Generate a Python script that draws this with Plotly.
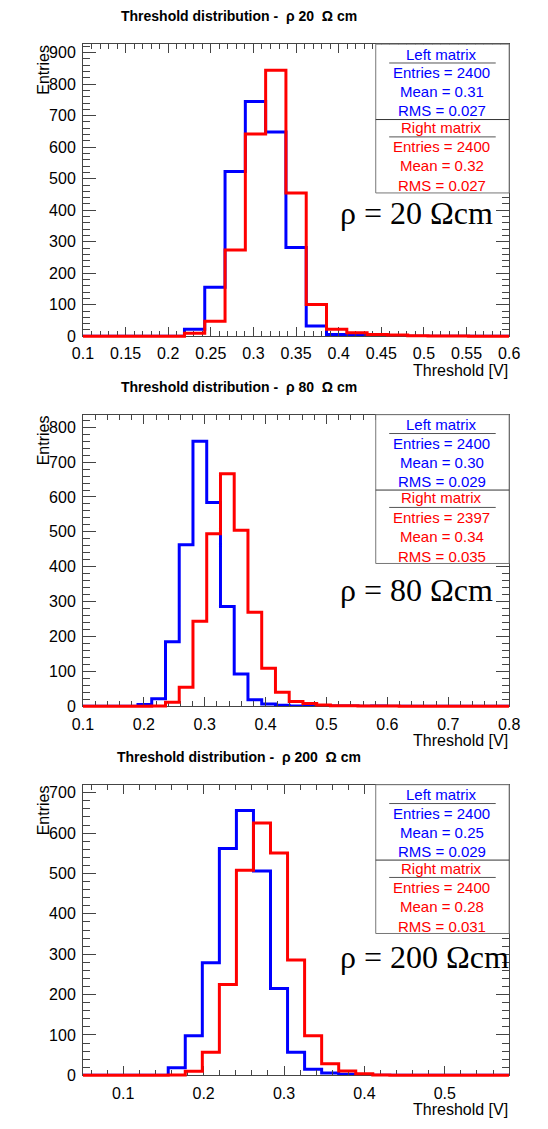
import numpy as np
import plotly.graph_objects as go

# ---------------- data ----------------
panel_titles = ["Threshold distribution -\u00a0 ρ 20\u00a0 Ω cm",
                "Threshold distribution -\u00a0 ρ 80\u00a0 Ω cm",
                "Threshold distribution -\u00a0 ρ 200\u00a0 Ω cm"]
rho_labels = ["ρ = 20 Ωcm", "ρ = 80 Ωcm", "ρ = 200 Ωcm"]

x_min = [0.1, 0.1, 0.05]
x_max = [0.6, 0.8, 0.58]
n_bins = [21, 31, 25]

left_20 = [0, 0, 0, 0, 0, 22, 156, 523, 745, 648, 282, 33, 6, 3, 2, 1, 0, 0, 0, 0, 0]
right_20 = [0, 0, 0, 0, 0, 10, 48, 274, 642, 844, 455, 101, 22, 11, 6, 4, 2, 1, 1, 0, 0]

left_80 = [0, 0, 0, 0, 5, 22, 185, 463, 760, 584, 286, 93, 19, 7, 3, 1, 1, 0, 1, 1, 0, 1,
           0, 0, 0, 0, 0, 0, 0, 0, 0]
right_80 = [0, 0, 0, 0, 0, 1, 12, 55, 244, 495, 667, 505, 270, 109, 40, 14, 8, 4, 2, 2, 1, 1, 1,
            0, 0, 0, 0, 0, 0, 0, 0]

left_200 = [0, 0, 0, 0, 0, 19, 98, 279, 562, 656, 506, 215, 57, 15, 6, 3, 1, 0, 0, 0, 0, 0, 0, 0, 0]
right_200 = [0, 0, 0, 0, 0, 1, 10, 57, 225, 508, 625, 551, 286, 98, 29, 11, 4, 1, 0, 0, 0, 0, 0, 0, 0]

left_counts = [left_20, left_80, left_200]
right_counts = [right_20, right_80, right_200]

left_entries = ["2400", "2400", "2400"]
left_mean = ["0.31", "0.30", "0.25"]
left_rms = ["0.027", "0.029", "0.029"]
right_entries = ["2400", "2397", "2400"]
right_mean = ["0.32", "0.34", "0.28"]
right_rms = ["0.027", "0.035", "0.031"]

y_max = [927, 836, 720]
x_dtick = [0.05, 0.1, 0.1]
x_minor = [0.01, 0.02, 0.02]

# ---------------- layout geometry (pixels) ----------------
W, H = 548, 1129
FX0, FX1 = 75, 519
frame_top = [44.5, 418, 791]
frame_bot = [339, 712, 1084]
rho_dy = [170, 177, 174]
EXT = 3  # px of extra room below zero so the red baseline stroke is not clipped
BLUE, RED = "#0000ff", "#ff0000"
SANS = "Liberation Sans, Arial, Helvetica, sans-serif"
SERIF = "Liberation Serif, Times New Roman, serif"
AXC = "#444444"


def px(x):
    return x / W


def py(y):
    return 1 - y / H


fig = go.Figure()
annotations = []
shapes = []
layout = {}

for i in range(3):
    sfx = "" if i == 0 else str(i + 1)
    dsfx = str(i + 4)  # hidden axes for the red histogram
    edges = np.linspace(x_min[i], x_max[i], n_bins[i] + 1)

    yb = list(left_counts[i]) + [left_counts[i][-1]]
    fig.add_trace(go.Scatter(x=edges, y=yb, mode="lines", line_shape="hv",
                             line=dict(color=BLUE, width=3),
                             xaxis="x" + sfx, yaxis="y" + sfx,
                             showlegend=False, hoverinfo="skip"))
    yr = list(right_counts[i]) + [right_counts[i][-1]]
    fig.add_trace(go.Scatter(x=edges, y=yr, mode="lines", line_shape="hv",
                             line=dict(color=RED, width=3),
                             xaxis="x" + dsfx, yaxis="y" + dsfx,
                             showlegend=False, hoverinfo="skip"))

    layout["xaxis" + sfx] = dict(
        domain=[px(FX0), px(FX1)], anchor="y" + sfx, range=[x_min[i], x_max[i]],
        showgrid=False, zeroline=False, showline=True, linecolor=AXC, linewidth=1,
        mirror="allticks", ticks="inside", ticklen=9, tickcolor=AXC, tickwidth=1,
        dtick=x_dtick[i], tick0=0, ticklabelstandoff=3,
        tickfont=dict(family=SANS, size=16, color="black"),
        minor=dict(ticks="inside", ticklen=5, dtick=x_minor[i], tick0=0,
                   tickcolor=AXC, showgrid=False),
    )
    layout["yaxis" + sfx] = dict(
        domain=[py(frame_bot[i]), py(frame_top[i])], anchor="x" + sfx,
        range=[0, y_max[i]],
        showgrid=False, zeroline=False, showline=True, linecolor=AXC, linewidth=1,
        mirror="allticks", ticks="inside", ticklen=13, tickcolor=AXC, tickwidth=1,
        dtick=100, tick0=0, ticklabelstandoff=3,
        tickfont=dict(family=SANS, size=16, color="black"),
        minor=dict(ticks="inside", ticklen=7, dtick=20, tick0=0,
                   tickcolor=AXC, showgrid=False),
    )
    per_px = y_max[i] / (frame_bot[i] - frame_top[i])
    layout["xaxis" + dsfx] = dict(domain=[px(FX0), px(FX1)], anchor="y" + dsfx,
                                  range=[x_min[i], x_max[i]], visible=False)
    layout["yaxis" + dsfx] = dict(domain=[py(frame_bot[i] + EXT), py(frame_top[i])],
                                  anchor="x" + dsfx, range=[-EXT * per_px, y_max[i]],
                                  visible=False)

    t = frame_top[i]
    annotations.append(dict(text="<b>" + panel_titles[i] + "</b>", x=px(238), y=py(t - 28),
                            xref="paper", yref="paper", xanchor="center", yanchor="middle",
                            showarrow=False, font=dict(family=SANS, size=14, color="black")))
    annotations.append(dict(text="Threshold [V]", x=px(FX1 + 1), y=py(frame_bot[i] + 34),
                            xref="paper", yref="paper", xanchor="right", yanchor="middle",
                            showarrow=False, font=dict(family=SANS, size=16, color="black")))
    annotations.append(dict(text="Entries", x=px(34), y=py(t - 1), textangle=-90,
                            xref="paper", yref="paper", xanchor="center", yanchor="top",
                            showarrow=False, font=dict(family=SANS, size=16, color="black")))
    annotations.append(dict(text=rho_labels[i], x=px(341), y=py(t + rho_dy[i]),
                            xref="paper", yref="paper", xanchor="left", yanchor="middle",
                            showarrow=False, font=dict(family=SERIF, size=32, color="black")))

    bx0, bx1 = 380, FX1
    shapes.append(dict(type="rect", xref="paper", yref="paper", layer="above",
                       x0=px(bx0), x1=px(bx1), y0=py(t + 150), y1=py(t),
                       fillcolor="white", line=dict(color="#777777", width=1)))
    shapes.append(dict(type="line", xref="paper", yref="paper", layer="above",
                       x0=px(bx0), x1=px(bx1), y0=py(t + 76), y1=py(t + 76),
                       line=dict(color="#333333", width=1)))
    for uy in (19, 93.5):
        shapes.append(dict(type="line", xref="paper", yref="paper", layer="above",
                           x0=px(394), x1=px(505), y0=py(t + uy), y1=py(t + uy),
                           line=dict(color="#555555", width=1)))
    lines = [("Left matrix", BLUE), ("Entries = " + left_entries[i], BLUE),
             ("Mean = " + left_mean[i], BLUE), ("RMS = " + left_rms[i], BLUE),
             ("Right matrix", RED), ("Entries = " + right_entries[i], RED),
             ("Mean = " + right_mean[i], RED), ("RMS = " + right_rms[i], RED)]
    offs = [10, 29, 48, 67, 84, 103.5, 122.5, 142.5]
    for (txt, col), dy in zip(lines, offs):
        annotations.append(dict(text=txt, x=px(449), y=py(t + dy),
                                xref="paper", yref="paper", xanchor="center", yanchor="middle",
                                showarrow=False, font=dict(family=SANS, size=15, color=col)))

fig.update_layout(width=W, height=H, margin=dict(l=0, r=0, t=0, b=0),
                  paper_bgcolor="white", plot_bgcolor="rgba(0,0,0,0)",
                  annotations=annotations, shapes=shapes, **layout)

fig.write_html("out.html")
